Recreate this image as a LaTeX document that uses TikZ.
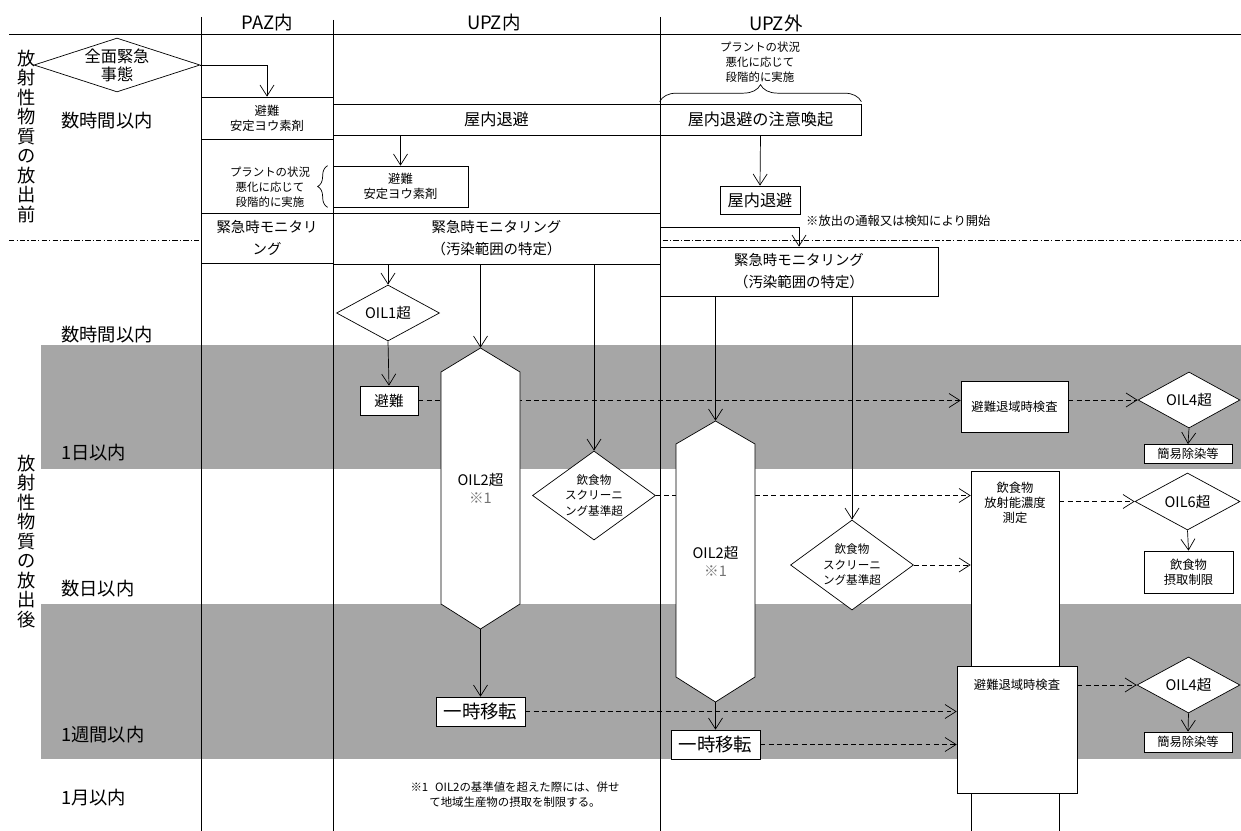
\documentclass[tikz,border=0pt]{standalone}
\usepackage{fontspec}
\setmainfont{Noto Sans CJK JP}
\usepackage{tikz}
\usetikzlibrary{positioning}
\usetikzlibrary{shapes.geometric, arrows.meta, calc}
\usetikzlibrary{decorations.pathreplacing}
\pgfdeclarelayer{bands}
\pgfdeclarelayer{links}
\pgfsetlayers{bands,links,main}

\newcommand{\pxl}{0.02cm}
\newcommand{\fntHead}{\fontsize{10.5pt}{12pt}\selectfont}
\newcommand{\fntTime}{\fontsize{10.4pt}{11.1pt}\selectfont}
\newcommand{\fntMid}{\fontsize{9.2pt}{10.2pt}\selectfont}
\newcommand{\fntMon}{\fontsize{8.2pt}{12.4pt}\selectfont}
\newcommand{\fntOil}{\fontsize{8.3pt}{10pt}\selectfont}
\newcommand{\fntSmall}{\fontsize{7pt}{8.6pt}\selectfont}
\newcommand{\fntDiet}{\fontsize{6.6pt}{8.8pt}\selectfont}
\newcommand{\fntNote}{\fontsize{6.5pt}{8.5pt}\selectfont}

\tikzstyle{arrow} = [->,>={Straight Barb[length=2.2mm,width=2.8mm]}]
\tikzstyle{dasharrow} = [arrow, dash pattern=on 2.8pt off 1.9pt]
\tikzstyle{zoneline} = [dash pattern=on 3pt off 1.3pt on 0.6pt off 1.3pt]
\tikzstyle{band} = [fill=black!35]
\tikzstyle{box} = [draw, fill=white, align=center, inner sep=1pt, font=\fntSmall]
\tikzstyle{decision} = [diamond, draw, fill=white, align=center, inner sep=0pt, font=\fntOil]
\tikzstyle{hexline} = [draw, fill=white]
\tikzstyle{headlbl} = [font=\fntHead]
\tikzstyle{timelbl} = [anchor=west, font=\fntTime]
\tikzstyle{phaselbl} = [align=center, font=\fntTime]
\tikzstyle{notelbl} = [align=center, font=\fntNote]
\tikzset{sz/.style 2 args={minimum width=#1*\pxl, minimum height=#2*\pxl}}

\begin{document}
\begin{tikzpicture}[x=0.02cm, y=-0.02cm, line width=0.6pt]
\useasboundingbox (0,0) rectangle (1241,831);

%Bands
\begin{pgfonlayer}{bands}
\fill[band] (41,345) rectangle (1241,469);
\fill[band] (41,604) rectangle (1241,759);
\end{pgfonlayer}

%Grid
\begin{pgfonlayer}{links}
\draw (9,34) -- (1241,34);
\draw (201,17) -- (201,831);
\draw (333,20) -- (333,831);
\draw (660,17) -- (660,831);
\draw[zoneline] (9,240) -- (1241,240);
\end{pgfonlayer}

%Headers
\node[headlbl] (hPAZ) at (267,23) {PAZ内};
\node[headlbl] (hUPZin) at (494,23) {UPZ内};
\node[headlbl] (hUPZout) at (776,23) {UPZ外};

%Phases and times
\node[phaselbl] (before) at (27,136.5) {放\\射\\性\\物\\質\\の\\放\\出\\前};
\node[phaselbl] (after) at (27,541.5) {放\\射\\性\\物\\質\\の\\放\\出\\後};
\node[timelbl] (tHoursA) at (55,121) {数時間以内};
\node[timelbl] (tHoursB) at (55,335) {数時間以内};
\node[timelbl] (tDay) at (55,453) {1日以内};
\node[timelbl] (tDays) at (55,589) {数日以内};
\node[timelbl] (tWeek) at (55,735) {1週間以内};
\node[timelbl] (tMonth) at (55,798) {1月以内};

%Before release
\node[decision, sz={157}{51}, aspect=3.08, font=\fntMid] (emerg) at (117,65) {全面緊急\\事態};
\node[box, sz={132}{42}] (pazEvac) at (267,118) {避難\\安定ヨウ素剤};
\node[box, sz={327}{31}, font=\fntMid] (upzShelter) at (496.5,119.5) {屋内退避};
\node[box, sz={201}{31}, font=\fntMid] (notice) at (760.5,119.5) {屋内退避の注意喚起};
\node[box, sz={135}{41}] (upzEvac) at (400.5,186.5) {避難\\安定ヨウ素剤};
\node[box, sz={80}{28}, font=\fntMid] (outShelter) at (760,200) {屋内退避};
\node[notelbl, font=\fntSmall, anchor=west] (startNote) at (800,221) {※放出の通報又は検知により開始};
\node[box, sz={132}{50}, font=\fntMon] (pazMon) at (267,238) {緊急時モニタリ\\ング};
\node[box, sz={327}{51}, font=\fntMon] (upzMon) at (496.5,238.5) {緊急時モニタリング\\（汚染範囲の特定）};
\node[box, sz={278}{49}, font=\fntMon] (outMon) at (799,271.5) {緊急時モニタリング\\（汚染範囲の特定）};

%Braces
\node[notelbl] (stepOut) at (760,62) {プラントの状況\\悪化に応じて\\段階的に実施};
\node[notelbl] (stepUpz) at (270,187) {プラントの状況\\悪化に応じて\\段階的に実施};
\draw[decorate, decoration={brace, amplitude=0.34cm}] ([yshift=0.04cm]notice.north west) -- ([yshift=0.04cm]notice.north east);
\draw[decorate, decoration={brace, amplitude=0.2cm}] ([xshift=-0.1cm]upzEvac.south west) -- ([xshift=-0.1cm]upzEvac.north west);

\draw[arrow] (emerg.east) -| (pazEvac.north);
\draw[arrow] (upzEvac.north |- upzShelter.south) -- (upzEvac.north);
\draw[arrow] (notice.south) -- (outShelter.north);
\draw[arrow] ($(upzMon.north east)+(0,15)$) -| (outMon.north);

%After release, UPZ inside
\node[decision, sz={103}{56}, aspect=1.84] (oilOne) at (388,313) {OIL1超};
\node[box, sz={58}{29}, font=\fntOil] (evacA) at (389,400.5) {避難};
\draw[hexline] (441,372) -- (480.5,348) -- (520,372) -- (520,604) -- (480.5,629) -- (441,604) -- cycle;
\node[sz={79}{281}, align=center, font=\fntOil] (hexA) at (480.5,488.5) {OIL2超\\{\color{black!55}※1}};
\node[box, sz={89}{29}, font=\fntHead] (relocA) at (480.5,711.5) {一時移転};
\node[decision, sz={123}{89}, aspect=1.38, font=\fntDiet] (dietA) at (594,495.5) {飲食物\\スクリーニ\\ング基準超};

%After release, UPZ outside
\draw[hexline] (676,444) -- (715.5,421) -- (755,444) -- (755,677) -- (715.5,702) -- (676,677) -- cycle;
\node[sz={79}{281}, align=center, font=\fntOil] (hexB) at (715.5,561.5) {OIL2超\\{\color{black!55}※1}};
\node[box, sz={89}{29}, font=\fntHead] (relocB) at (715.5,744.5) {一時移転};
\node[decision, sz={123}{90}, aspect=1.37, font=\fntDiet] (dietB) at (852,565) {飲食物\\スクリーニ\\ング基準超};

%Checks
\node[box, sz={107}{51}] (checkA) at (1014.5,406.5) {避難退域時検査};
\node[decision, sz={102}{56}, aspect=1.82] (oilFourA) at (1189,400) {OIL4超};
\node[box, sz={88}{19}] (decontA) at (1188,454) {簡易除染等};
\node[box, sz={88}{372}, anchor=north] (foodMeas) at (1015,471) {};
\node[align=center, font=\fntSmall] (foodMeasText) at (1015,502.5) {飲食物\\放射能濃度\\測定};
\node[decision, sz={105}{57}, aspect=1.84] (oilSix) at (1187.5,501.5) {OIL6超};
\node[box, sz={89}{42}] (intake) at (1188.5,572) {飲食物\\摂取制限};
\node[box, sz={120}{127}, anchor=north] (checkB) at (1017,666) {};
\node[font=\fntSmall] (checkBText) at (1017,685) {避難退域時検査};
\node[decision, sz={103}{56}, aspect=1.84] (oilFourB) at (1188.5,685) {OIL4超};
\node[box, sz={88}{20}] (decontB) at (1188,742) {簡易除染等};

%Footnote
\node[notelbl] (footnote) at (515,795) {※1\hspace{0.6em}OIL2の基準値を超えた際には、併せ\\て地域生産物の摂取を制限する。};

%Arrows
\draw[arrow] (oilOne.north |- upzMon.south) -- (oilOne.north);
\draw[arrow] (oilOne.south) -- (evacA.north);
\draw[arrow] (hexA.north |- upzMon.south) -- (hexA.north);
\draw[arrow] (hexA.south) -- (relocA.north);
\draw[arrow] (dietA.north |- upzMon.south) -- (dietA.north);
\draw[arrow] (hexB.north |- outMon.south) -- (hexB.north);
\draw[arrow] (hexB.south) -- (relocB.north);
\draw[arrow] (dietB.north |- outMon.south) -- (dietB.north);
\draw[arrow] (oilFourA.south) -- (decontA.north);
\draw[arrow] (oilSix.south) -- (intake.north);
\draw[arrow] (oilFourB.south) -- (decontB.north);

\begin{pgfonlayer}{links}
\draw[dasharrow] (evacA.east) -- (evacA.east -| checkA.west);
\draw[dasharrow] (checkA.east |- oilFourA.west) -- (oilFourA.west);
\draw[dasharrow] (dietA.east) -- (dietA.east -| foodMeas.west);
\draw[dasharrow] (foodMeas.east |- oilSix.west) -- (oilSix.west);
\draw[dasharrow] (dietB.east) -- (dietB.east -| foodMeas.west);
\draw[dasharrow] (relocA.east) -- (relocA.east -| checkB.west);
\draw[dasharrow] (relocB.east) -- (relocB.east -| checkB.west);
\draw[dasharrow] (checkB.east |- oilFourB.west) -- (oilFourB.west);
\end{pgfonlayer}
\end{tikzpicture}
\end{document}
